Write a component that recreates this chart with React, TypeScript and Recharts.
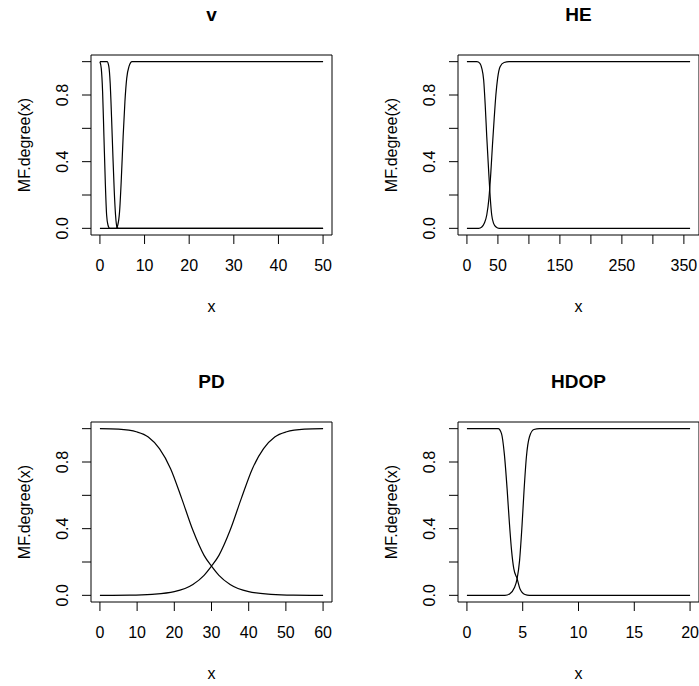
import { LineChart, Line, XAxis, YAxis, ReferenceArea } from "recharts";

type Pt = { x: number; y: number };

const FONT = "'Liberation Sans', Arial, Helvetica, sans-serif";

// v
const vLow: Pt[] = [
  { x: 0, y: 1 }, { x: 0.3, y: 0.96 }, { x: 0.6, y: 0.82 }, { x: 0.9, y: 0.55 },
  { x: 1.2, y: 0.28 }, { x: 1.5, y: 0.08 }, { x: 1.8, y: 0.02 }, { x: 2.2, y: 0 }, { x: 50, y: 0 },
];
const vMid: Pt[] = [
  { x: 0, y: 1 }, { x: 1.6, y: 1 }, { x: 2.0, y: 0.97 }, { x: 2.3, y: 0.87 }, { x: 2.6, y: 0.67 },
  { x: 2.9, y: 0.44 }, { x: 3.2, y: 0.23 }, { x: 3.5, y: 0.08 }, { x: 3.8, y: 0.01 }, { x: 4.2, y: 0 }, { x: 50, y: 0 },
];
const vHigh: Pt[] = [
  { x: 0, y: 0 }, { x: 3.6, y: 0 }, { x: 4.0, y: 0.02 }, { x: 4.4, y: 0.1 }, { x: 4.8, y: 0.3 },
  { x: 5.2, y: 0.55 }, { x: 5.6, y: 0.76 }, { x: 6.0, y: 0.9 }, { x: 6.5, y: 0.97 }, { x: 7.2, y: 1 }, { x: 50, y: 1 },
];

// HE
const heLow: Pt[] = [
  { x: 0, y: 1 }, { x: 16, y: 1 }, { x: 21, y: 0.99 }, { x: 24, y: 0.96 }, { x: 27, y: 0.89 },
  { x: 29.5, y: 0.74 }, { x: 32, y: 0.55 }, { x: 34.8, y: 0.36 }, { x: 37.5, y: 0.19 }, { x: 40, y: 0.08 },
  { x: 43, y: 0.03 }, { x: 47, y: 0.008 }, { x: 52, y: 0 }, { x: 360, y: 0 },
];
const heHigh: Pt[] = [
  { x: 0, y: 0 }, { x: 19, y: 0 }, { x: 24, y: 0.008 }, { x: 28, y: 0.03 }, { x: 32, y: 0.08 },
  { x: 35.5, y: 0.18 }, { x: 38.5, y: 0.33 }, { x: 41.2, y: 0.5 }, { x: 44, y: 0.66 }, { x: 46.7, y: 0.8 },
  { x: 49.5, y: 0.9 }, { x: 53.5, y: 0.97 }, { x: 60, y: 0.995 }, { x: 68, y: 1 }, { x: 360, y: 1 },
];

// PD
const pdLow: Pt[] = [
  { x: 0, y: 1 }, { x: 5, y: 0.997 }, { x: 10, y: 0.98 }, { x: 13, y: 0.95 }, { x: 16, y: 0.88 },
  { x: 19, y: 0.76 }, { x: 22, y: 0.58 }, { x: 25, y: 0.39 }, { x: 28, y: 0.24 }, { x: 30, y: 0.175 },
  { x: 32, y: 0.12 }, { x: 35, y: 0.065 }, { x: 40, y: 0.022 }, { x: 46, y: 0.006 }, { x: 52, y: 0.001 }, { x: 60, y: 0 },
];
const pdHigh: Pt[] = [
  { x: 0, y: 0 }, { x: 8, y: 0.001 }, { x: 14, y: 0.006 }, { x: 20, y: 0.022 }, { x: 25, y: 0.065 },
  { x: 28, y: 0.12 }, { x: 30, y: 0.175 }, { x: 32, y: 0.24 }, { x: 35, y: 0.39 }, { x: 38, y: 0.58 },
  { x: 41, y: 0.76 }, { x: 44, y: 0.88 }, { x: 47, y: 0.95 }, { x: 50, y: 0.98 }, { x: 55, y: 0.997 }, { x: 60, y: 1 },
];

// HDOP
const hdLow: Pt[] = [
  { x: 0, y: 1 }, { x: 2.8, y: 1 }, { x: 3.1, y: 0.97 }, { x: 3.35, y: 0.85 }, { x: 3.6, y: 0.64 },
  { x: 3.8, y: 0.44 }, { x: 4.0, y: 0.27 }, { x: 4.2, y: 0.16 }, { x: 4.5, y: 0.1 }, { x: 4.75, y: 0.04 },
  { x: 5.2, y: 0.005 }, { x: 5.6, y: 0 }, { x: 20, y: 0 },
];
const hdHigh: Pt[] = [
  { x: 0, y: 0 }, { x: 3.4, y: 0 }, { x: 3.85, y: 0.01 }, { x: 4.25, y: 0.045 }, { x: 4.5, y: 0.1 },
  { x: 4.72, y: 0.21 }, { x: 4.93, y: 0.41 }, { x: 5.12, y: 0.63 }, { x: 5.33, y: 0.83 }, { x: 5.6, y: 0.95 },
  { x: 6.0, y: 0.995 }, { x: 6.5, y: 1 }, { x: 20, y: 1 },
];

const yTicks = [0, 0.2, 0.4, 0.6, 0.8, 1];
const yLabelled = [0, 0.4, 0.8];

const vTicks = [0, 10, 20, 30, 40, 50];
const heTicks = [0, 50, 100, 150, 200, 250, 300, 350];
const heLabelled = [0, 50, 150, 250, 350];
const pdTicks = [0, 10, 20, 30, 40, 50, 60];
const hdTicks = [0, 5, 10, 15, 20];

function XTick(props: any) {
  const { x, payload, labelled } = props;
  if (!labelled.includes(payload.value)) return <g />;
  return (
    <text x={x} y={271} textAnchor="middle" fontSize={16} fontFamily={FONT} fill="#000">
      {payload.value}
    </text>
  );
}

function YTick(props: any) {
  const { y, payload } = props;
  if (!yLabelled.includes(payload.value)) return <g />;
  return (
    <text
      x={62}
      y={y}
      dy="0.35em"
      transform={`rotate(-90 62 ${y})`}
      textAnchor="middle"
      fontSize={16}
      fontFamily={FONT}
      fill="#000"
    >
      {payload.value.toFixed(1)}
    </text>
  );
}

interface PanelProps {
  title: string;
  xMax: number;
  xTicks: number[];
  labelled: number[];
  curves: Pt[][];
  left: number;
  top: number;
}

function Panel({ title, xMax, xTicks, labelled, curves, left, top }: PanelProps) {
  const pad = xMax * 0.04;
  const width = left === 0 ? 349 : 332;
  return (
    <div style={{ position: "absolute", left, top }}>
      <LineChart
        width={width}
        height={343}
        margin={{ top: 55, right: width - 91 - 241, bottom: 0, left: 0 }}
      >
        <XAxis
          type="number"
          dataKey="x"
          domain={[-pad, xMax + pad]}
          ticks={xTicks}
          interval={0}
          allowDataOverflow
          axisLine={false}
          tickLine={{ stroke: "#000" }}
          tickSize={9}
          height={108}
          tick={<XTick labelled={labelled} />}
          label={{ value: "x", position: "insideBottom", offset: 31, fill: "#000", fontSize: 16, fontFamily: FONT }}
        />
        <YAxis
          type="number"
          domain={[-0.04, 1.04]}
          ticks={yTicks}
          interval={0}
          allowDataOverflow
          axisLine={false}
          tickLine={{ stroke: "#000" }}
          tickSize={9}
          width={91}
          tick={<YTick />}
          label={{
            value: "MF.degree(x)",
            angle: -90,
            position: "insideLeft",
            offset: 24,
            fill: "#000",
            fontSize: 16,
            fontFamily: FONT,
            style: { textAnchor: "middle" },
          }}
        />
        {curves.map((c, i) => (
          <Line
            key={i}
            data={c}
            dataKey="y"
            type="monotone"
            stroke="#000"
            strokeWidth={1.2}
            dot={false}
            activeDot={false}
            isAnimationActive={false}
          />
        ))}
        <ReferenceArea
          x1={-pad}
          x2={xMax + pad}
          y1={-0.04}
          y2={1.04}
          fill="none"
          stroke="#000"
          strokeWidth={1}
          ifOverflow="visible"
          label={{ value: title, position: "top", offset: 34, fill: "#000", fontSize: 19, fontWeight: "bold", fontFamily: FONT }}
        />
      </LineChart>
    </div>
  );
}

export default function App() {
  return (
    <div
      style={{
        position: "absolute",
        left: 0,
        top: 0,
        width: 699,
        height: 686,
        overflow: "hidden",
        background: "#fff",
      }}
    >
      <Panel title="v" xMax={50} xTicks={vTicks} labelled={vTicks} curves={[vLow, vMid, vHigh]} left={0} top={0} />
      <Panel title="HE" xMax={360} xTicks={heTicks} labelled={heLabelled} curves={[heLow, heHigh]} left={367} top={0} />
      <Panel title="PD" xMax={60} xTicks={pdTicks} labelled={pdTicks} curves={[pdLow, pdHigh]} left={0} top={367} />
      <Panel title="HDOP" xMax={20} xTicks={hdTicks} labelled={hdTicks} curves={[hdLow, hdHigh]} left={367} top={367} />
    </div>
  );
}
